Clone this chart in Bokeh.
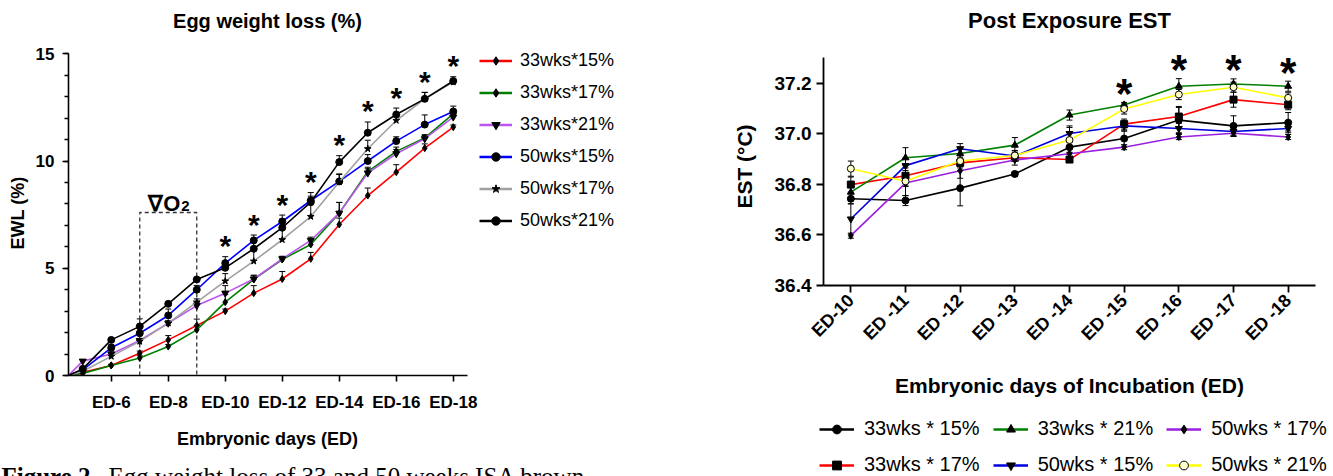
from math import pi
from bokeh.plotting import figure
from bokeh.layouts import row, column
from bokeh.models import (ColumnDataSource, FixedTicker, Legend, LegendItem,
                          Whisker, TeeHead)
from bokeh.core.properties import value
from bokeh.embed import file_html
from bokeh.resources import INLINE

FONT = "Liberation Sans"
NAN = float("nan")

# ---------------- Left chart: Egg weight loss ----------------
ewl_days = [5, 6, 7, 8, 9, 10, 11, 12, 13, 14, 15, 16, 17, 18]
ewl_start_day = 4.5
ewl_end_day = 18.5
ewl_tick_days = [6, 8, 10, 12, 14, 16, 18]
ewl_tick_labels = ["ED-6", "ED-8", "ED-10", "ED-12", "ED-14", "ED-16", "ED-18"]
ewl_series = ["33wks*15%", "33wks*17%", "33wks*21%", "50wks*15%", "50wks*17%", "50wks*21%"]

ewl_33_15 = [0.15, 0.47, 1.04, 1.66, 2.33, 3.00, 3.84, 4.50, 5.44, 7.04, 8.39, 9.48, 10.60, 11.58]
ewl_33_17 = [0.10, 0.47, 0.82, 1.35, 2.13, 3.42, 4.48, 5.41, 6.11, 7.57, 9.51, 10.45, 11.08, 12.20]
ewl_33_21 = [0.67, 1.00, 1.63, 2.44, 3.26, 3.84, 4.50, 5.44, 6.30, 7.57, 9.44, 10.34, 11.04, 12.05]
ewl_50_15 = [0.26, 1.29, 1.97, 2.80, 4.00, 5.24, 6.30, 7.18, 8.16, 9.05, 10.00, 10.93, 11.70, 12.31]
ewl_50_17 = [0.20, 0.89, 1.59, 2.44, 3.42, 4.40, 5.33, 6.33, 7.41, 9.02, 10.57, 11.89, 12.90, 13.68]
ewl_50_21 = [0.31, 1.66, 2.29, 3.34, 4.48, 5.02, 5.91, 6.89, 8.08, 9.95, 11.32, 12.17, 12.90, 13.73]

ewl_33_15_err = [0.05, 0.05, 0.10, 0.20, 0.30, 0.10, 0.35, 0.35, 0.30, 0.30, 0.35, 0.35, 0.20, 0.10]
ewl_33_17_err = [0.05, 0.05, 0.10, 0.10, 0.20, 0.35, 0.20, 0.15, 0.15, 0.50, 0.20, 0.20, 0.15, 0.20]
ewl_33_21_err = [0.05, 0.10, 0.10, 0.10, 0.15, 0.35, 0.15, 0.10, 0.15, 0.50, 0.20, 0.20, 0.15, 0.15]
ewl_50_15_err = [0.05, 0.15, 0.10, 0.30, 0.20, 0.30, 0.25, 0.30, 0.20, 0.35, 0.30, 0.20, 0.45, 0.25]
ewl_50_17_err = [0.05, 0.10, 0.10, 0.10, 0.15, 0.35, 0.50, 0.60, 0.60, 0.35, 0.40, 0.35, 0.30, 0.15]
ewl_50_21_err = [0.05, 0.05, 0.35, 0.05, 0.05, 0.30, 0.30, 0.40, 0.45, 0.30, 0.50, 0.30, 0.30, 0.20]

ewl_star_days = [10, 11, 12, 13, 14, 15, 16, 17, 18]
o2_start_day, o2_end_day, o2_box_top = 7, 9, 7.6

ewl_colors = ["#ff0000", "#008000", "#bb55ee", "#0000ff", "#a0a0a0", "#000000"]
ewl_markers = ["diamond", "diamond", "inverted_triangle", "circle", "star", "circle"]


def no_align(fig):
    try:
        fig.frame_align = False
    except Exception:
        pass
    return fig


def strip(w, h):
    f = figure(width=w, height=h, x_range=(0, w), y_range=(0, h), output_backend="svg",
               toolbar_location=None, x_axis_type=None, y_axis_type=None, min_border=0)
    f.outline_line_color = None
    return no_align(f)


def put_text(f, x, y, txt, size, style="bold", font=FONT, align="center", baseline="middle"):
    f.text(x=[x], y=[y], text=[txt], text_font=value(font), text_font_style=style,
           text_font_size=size, text_align=align, text_baseline=baseline, text_color="black")


# title strip (left)
t1 = strip(700, 40)
put_text(t1, 267, 20, "Egg weight loss (%)", "20px")

# ranges extended past the axes so the frame also holds the legend
p1 = figure(width=700, height=378, x_range=(ewl_start_day, ewl_start_day + 632 / 28.5),
            y_range=(0, 325 / 21.447), output_backend="svg", toolbar_location=None,
            min_border_left=68, min_border_right=0, min_border_top=10, min_border_bottom=43)
no_align(p1)
p1.outline_line_color = None
p1.xgrid.visible = False
p1.ygrid.visible = False
p1.xaxis.ticker = FixedTicker(ticks=ewl_tick_days)
p1.xaxis.major_label_overrides = dict(zip(ewl_tick_days, ewl_tick_labels))
p1.xaxis.bounds = (ewl_start_day, ewl_end_day)
p1.yaxis.ticker = FixedTicker(ticks=[0, 5, 10, 15], minor_ticks=list(range(0, 16)))
p1.yaxis.bounds = (0, 15)
for ax in (p1.xaxis[0], p1.yaxis[0]):
    ax.axis_line_width = 1.6
    ax.axis_line_color = "black"
    ax.major_tick_line_width = 1.6
    ax.minor_tick_line_width = 1.4
    ax.major_tick_out = 6
    ax.major_tick_in = 0
    ax.minor_tick_in = 0
    ax.major_label_text_font = FONT
    ax.major_label_text_font_style = "bold"
    ax.major_label_text_font_size = "17px"
    ax.major_label_text_color = "black"
    ax.axis_label_text_font = FONT
    ax.axis_label_text_font_style = "bold"
    ax.axis_label_text_font_size = "18px"
    ax.axis_label_text_color = "black"
p1.xaxis.minor_tick_out = 0
p1.yaxis.minor_tick_out = 4
p1.xaxis.major_label_standoff = 11
p1.yaxis.major_label_standoff = 8
p1.yaxis.axis_label = "EWL (%)"
p1.yaxis.axis_label_standoff = 5

# hypoxia window box
p1.line([o2_start_day, o2_start_day, o2_end_day, o2_end_day], [0, o2_box_top, o2_box_top, 0],
        line_dash="4 3", line_color="#333333", line_width=1.3)

ewl_vals = [ewl_33_15, ewl_33_17, ewl_33_21, ewl_50_15, ewl_50_17, ewl_50_21]
ewl_errs = [ewl_33_15_err, ewl_33_17_err, ewl_33_21_err, ewl_50_15_err, ewl_50_17_err, ewl_50_21_err]
items1 = []
for name, vals, errs, col, mk in zip(ewl_series, ewl_vals, ewl_errs, ewl_colors, ewl_markers):
    src = ColumnDataSource(dict(x=ewl_days, y=vals, up=[v + e for v, e in zip(vals, errs)]))
    p1.line([ewl_start_day] + ewl_days, [0] + vals, line_color=col, line_width=1.6)
    p1.add_layout(Whisker(source=src, base="x", lower="y", upper="up", lower_head=None,
                          upper_head=TeeHead(size=6, line_color="black", line_width=1),
                          line_color="black", line_width=1))
    p1.scatter("x", "y", source=src, marker=mk, size=7, fill_color="black", line_color="black")
    # legend-only swatches (no visible data)
    lr = p1.line(x=[NAN], y=[NAN], line_color=col, line_width=2.6)
    mr = p1.scatter(x=[NAN], y=[NAN], marker=mk, size=6, fill_color="black", line_color="black")
    items1.append(LegendItem(label=name, renderers=[lr, mr]))

# significance stars
tops = [max(v[ewl_days.index(d)] + e[ewl_days.index(d)] for v, e in zip(ewl_vals, ewl_errs))
        for d in ewl_star_days]
p1.text(x=ewl_star_days, y=tops, text=["*"] * len(ewl_star_days), text_font=value(FONT),
        text_font_style="bold", text_font_size="30px", text_align="center",
        text_baseline="alphabetic", y_offset=-11, text_color="black")

# nabla O2 label
p1.text(x=[8], y=[8.03], text=["\u2207O"], text_font=value(FONT), text_font_style="bold",
        text_font_size="22px", text_align="right", text_baseline="alphabetic", x_offset=12)
p1.text(x=[8], y=[8.03], text=["2"], text_font=value(FONT), text_font_style="bold",
        text_font_size="15px", text_align="left", text_baseline="alphabetic", x_offset=13, y_offset=3)

leg1 = Legend(items=items1, location=(411, 144), orientation="vertical",
              glyph_width=33, glyph_height=21, label_height=21, label_standoff=8, spacing=11,
              padding=0, margin=0, border_line_color=None, background_fill_alpha=0,
              label_text_font=FONT, label_text_font_size="18px", label_text_color="black")
p1.add_layout(leg1)

# bottom strip (left): axis title + caption
s1 = strip(700, 58)
put_text(s1, 267, 38, "Embryonic days (ED)", "18px")
put_text(s1, 1, 14, "Figure 2.", "25px", style="bold", font="Liberation Serif",
         align="left", baseline="top")
put_text(s1, 108, 14, "Egg weight loss of 33 and 50 weeks ISA brown", "25px", style="normal",
         font="Liberation Serif", align="left", baseline="top")

# ---------------- Right chart: Post Exposure EST ----------------
est_days = ["ED-10", "ED -11", "ED -12", "ED -13", "ED -14", "ED -15", "ED -16", "ED -17", "ED -18"]
est_series = ["33wks * 15%", "33wks * 17%", "33wks * 21%", "50wks * 15%", "50wks * 17%", "50wks * 21%"]
est_ticks = [36.4, 36.6, 36.8, 37.0, 37.2]
est_axis_top = 37.3

est_33_15 = [36.743, 36.736, 36.785, 36.841, 36.947, 36.981, 37.054, 37.031, 37.044]
est_33_17 = [36.799, 36.834, 36.885, 36.905, 36.898, 37.038, 37.068, 37.135, 37.115]
est_33_21 = [36.769, 36.905, 36.922, 36.955, 37.074, 37.114, 37.188, 37.197, 37.188]
est_50_15 = [36.663, 36.874, 36.941, 36.912, 37.001, 37.031, 37.021, 37.009, 37.021]
est_50_17 = [36.597, 36.805, 36.854, 36.896, 36.921, 36.947, 36.987, 37.002, 36.987]
est_50_21 = [36.862, 36.812, 36.892, 36.914, 36.975, 37.098, 37.155, 37.184, 37.142]

est_33_15_err = [0.02, 0.02, 0.07, 0.01, 0.02, 0.03, 0.05, 0.04, 0.04]
est_33_17_err = [0.03, 0.04, 0.02, 0.01, 0.01, 0.02, 0.04, 0.03, 0.02]
est_33_21_err = [0.02, 0.04, 0.02, 0.03, 0.02, 0.01, 0.03, 0.02, 0.02]
est_50_15_err = [0.06, 0.03, 0.02, 0.02, 0.03, 0.02, 0.02, 0.02, 0.01]
est_50_17_err = [0.01, 0.05, 0.03, 0.02, 0.02, 0.01, 0.01, 0.01, 0.01]
est_50_21_err = [0.03, 0.02, 0.02, 0.02, 0.05, 0.02, 0.02, 0.02, 0.02]

est_star_days = ["ED -15", "ED -16", "ED -17", "ED -18"]

est_colors = ["#000000", "#ff0000", "#008000", "#0000dd", "#9b1fe0", "#ffff00"]
est_markers = ["circle", "square", "triangle", "inverted_triangle", "diamond", "circle"]
est_fills = ["black", "black", "black", "black", "black", "#ffffcc"]

t2 = strip(633, 40)
put_text(t2, 369, 20, "Post Exposure EST", "22px")

xi = list(range(len(est_days)))
p2 = figure(width=633, height=362, x_range=(-0.5, 8.5), y_range=(36.4, 36.4 + 238 / 252.9),
            output_backend="svg", toolbar_location=None,
            min_border_left=123, min_border_right=18, min_border_top=7, min_border_bottom=117)
no_align(p2)
p2.outline_line_color = None
p2.xgrid.visible = False
p2.ygrid.visible = False
p2.xaxis.ticker = FixedTicker(ticks=xi)
p2.xaxis.major_label_overrides = dict(zip(xi, est_days))
p2.xaxis.major_label_orientation = pi / 4
p2.yaxis.ticker = FixedTicker(ticks=est_ticks)
p2.yaxis.major_label_overrides = {t: f"{t:.1f}" for t in est_ticks}
p2.yaxis.bounds = (est_ticks[0], est_axis_top)
for ax in (p2.xaxis[0], p2.yaxis[0]):
    ax.axis_line_width = 1.8
    ax.axis_line_color = "black"
    ax.major_tick_line_width = 1.8
    ax.major_tick_out = 7
    ax.major_tick_in = 0
    ax.minor_tick_out = 0
    ax.minor_tick_in = 0
    ax.major_label_text_font = FONT
    ax.major_label_text_font_style = "bold"
    ax.major_label_text_color = "black"
    ax.axis_label_text_font = FONT
    ax.axis_label_text_font_style = "bold"
    ax.axis_label_text_font_size = "21px"
    ax.axis_label_text_color = "black"
p2.xaxis.major_label_text_font_size = "18px"
p2.yaxis.major_label_text_font_size = "19px"
p2.xaxis.major_label_standoff = 5
p2.yaxis.major_label_standoff = 5
p2.xaxis.axis_label = "Embryonic days of Incubation (ED)"
p2.xaxis.axis_label_standoff = 20
p2.yaxis.axis_label = "EST (\u00b0C)"
p2.yaxis.axis_label_standoff = 16

est_vals = [est_33_15, est_33_17, est_33_21, est_50_15, est_50_17, est_50_21]
est_errs = [est_33_15_err, est_33_17_err, est_33_21_err, est_50_15_err, est_50_17_err, est_50_21_err]

s2 = strip(633, 74)
items2 = {}
for name, vals, errs, col, mk, fc in zip(est_series, est_vals, est_errs, est_colors, est_markers, est_fills):
    src = ColumnDataSource(dict(x=xi, y=vals, lo=[v - e for v, e in zip(vals, errs)],
                                up=[v + e for v, e in zip(vals, errs)]))
    p2.add_layout(Whisker(source=src, base="x", lower="lo", upper="up",
                          lower_head=TeeHead(size=6, line_color="black", line_width=1),
                          upper_head=TeeHead(size=6, line_color="black", line_width=1),
                          line_color="black", line_width=1))
    p2.line("x", "y", source=src, line_color=col, line_width=1.6)
    p2.scatter("x", "y", source=src, marker=mk, size=7, fill_color=fc, line_color="black")
    # legend-only swatches in the legend strip (no visible data)
    lr = s2.line(x=[NAN], y=[NAN], line_color=col, line_width=2.6)
    mr = s2.scatter(x=[NAN], y=[NAN], marker=mk, size=6, fill_color=fc, line_color="black")
    items2[name] = LegendItem(label=name, renderers=[lr, mr])

star_x = [est_days.index(d) for d in est_star_days]
star_tops = [max(v[i] + e[i] for v, e in zip(est_vals, est_errs)) for i in star_x]
p2.text(x=star_x, y=star_tops, text=["*"] * len(star_x), text_font=value(FONT),
        text_font_style="bold", text_font_size="42px", text_align="center",
        text_baseline="alphabetic", y_offset=-9, text_color="black")

legend_rows = [["33wks * 15%", "33wks * 21%", "50wks * 17%"],
               ["33wks * 17%", "50wks * 15%", "50wks * 21%"]]
for r, ly in zip(legend_rows, [36, 0]):
    lg = Legend(items=[items2[n] for n in r], location=(119, ly), orientation="horizontal",
                glyph_width=35, glyph_height=22, label_height=22, label_standoff=10, spacing=13,
                padding=0, margin=0, border_line_color=None, background_fill_alpha=0,
                label_text_font=FONT, label_text_font_size="20px", label_text_color="black")
    s2.add_layout(lg)

left = column(t1, p1, s1)
right = column(t2, p2, s2)
layout = row(left, right)
open("out.html", "w").write(file_html(layout, INLINE))
